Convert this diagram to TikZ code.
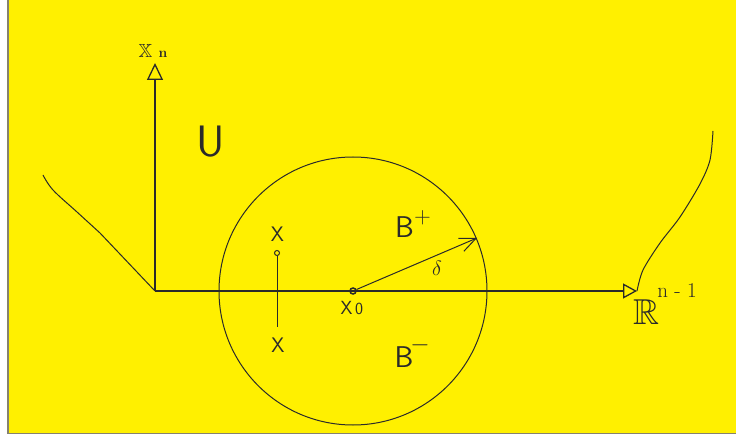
\documentclass[tikz,border=0pt]{standalone}
\usepackage{amssymb}
\usetikzlibrary{arrows.meta}
\definecolor{bgyellow}{HTML}{FFF000}
\definecolor{framegray}{HTML}{86826E}
\definecolor{inkgray}{HTML}{2A2A2A}

\begin{document}
\begin{tikzpicture}[x=1pt,y=-1pt,line width=1pt,inkgray,
  lbl/.style={inner sep=0pt,font=\sffamily\fontsize{21}{21}\selectfont},
  setlbl/.style={inner sep=0pt,font=\sffamily\fontsize{30}{30}\selectfont},
  supsign/.style={inner sep=0pt,font=\sffamily\fontsize{23}{23}\selectfont},
  axisarrow/.style={line width=1.3pt}]
  \useasboundingbox (0,0) rectangle (736,438);
  % Background and frame
  \fill[bgyellow] (8,0) rectangle (736,433);
  \draw[framegray,line width=1.5pt] (8,0) -- (8,433.5) -- (736,433.5);
  % Axes
  \coordinate (O) at (155,291);
  \coordinate (xtip) at (155,63);
  \coordinate (rtip) at (637,291);
  \draw[axisarrow,-{Triangle[open,length=17pt,width=16pt]}] (O) -- (xtip);
  \draw[axisarrow,-{Triangle[open,length=14pt,width=15pt]}] (O) -- (rtip);
  \node[inner sep=0pt,font=\fontsize{19}{19}\selectfont] (xnX) at (145.5,51) {$\mathbb{X}$};
  \node[inner sep=0pt,font=\bfseries\fontsize{14}{14}\selectfont] (xnn) at (163,54) {n};
  \node[inner sep=0pt,font=\fontsize{36}{36}\selectfont] (R) at (646.5,312.5) {$\mathbb{R}$};
  \node[inner sep=0pt,font=\fontsize{21}{21}\selectfont] (Rexp) at (677,290.5) {n - 1};
  % Boundary of U
  \draw plot[smooth,tension=0.6] coordinates {(43,175) (53,190) (77,212) (100,233)} -- (O);
  \draw plot[smooth] coordinates {(713,131) (710,160) (700,184) (680,217) (660,243) (643,270) (rtip)};
  \node[inner sep=0pt,font=\sffamily\fontsize{44}{44}\selectfont] (U) at (211,142) {U};
  % Ball around x0
  \node[circle,draw,line width=1.5pt,inner sep=0pt,minimum size=6pt] (x0) at (353,291) {};
  \draw (353,291) circle[radius=134];
  \coordinate (redge) at (477,238);
  \draw[-{Straight Barb[length=16pt,width=14pt]}] (x0) -- (redge);
  \node[inner sep=0pt,font=\fontsize{20}{20}\selectfont] (delta) at (437,268.5) {$\delta$};
  \node[lbl,font=\sffamily\fontsize{19}{19}\selectfont] (x0X) at (346.5,307.5) {X};
  \node[lbl,font=\sffamily\fontsize{17}{17}\selectfont] (x0sub) at (359,309) {0};
  \node[setlbl] (Bp) at (404.5,227.5) {B};
  \node[supsign] (Bpsup) at (422.5,218) {+};
  \node[setlbl] (Bm) at (404,357.5) {B};
  \node[supsign] (Bmsup) at (420,345) {$-$};
  % Point x and its reflection
  \node[circle,draw,inner sep=0pt,minimum size=5pt] (xpt) at (277,253) {};
  \coordinate (xlow) at (277,327);
  \draw (xpt) -- (xlow);
  \node[lbl] (xup) at (277.5,234.5) {X};
  \node[lbl] (xdown) at (278,345) {X};
\end{tikzpicture}
\end{document}
